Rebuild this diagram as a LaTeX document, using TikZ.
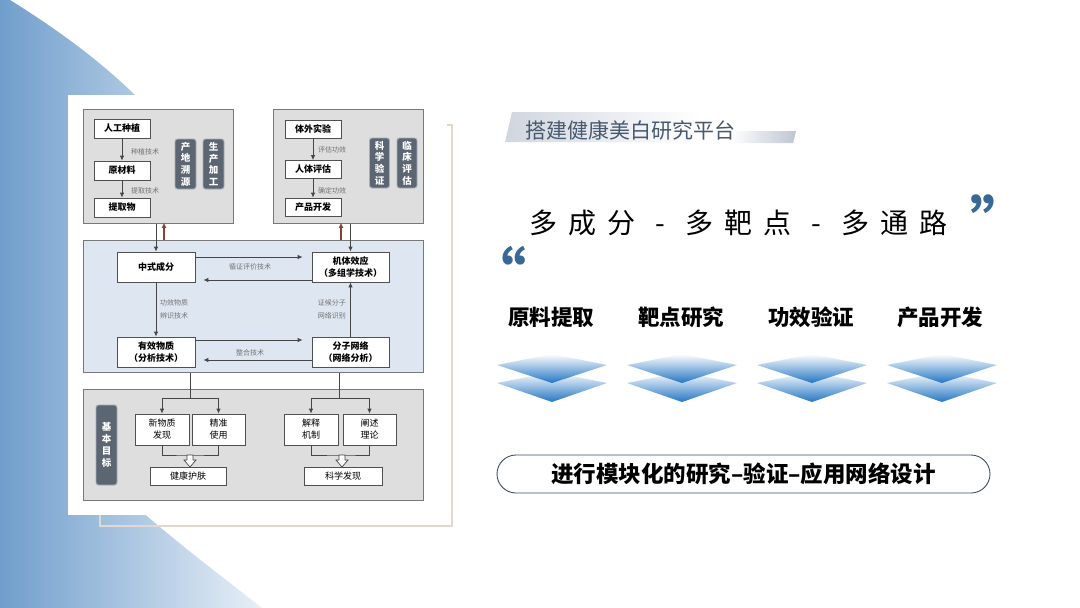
\documentclass[tikz,border=0pt]{standalone}
\usepackage{fontspec}
\setmainfont{Noto Sans CJK SC}
\usetikzlibrary{arrows.meta,calc}
\definecolor{bgblueA}{RGB}{112,158,204}
\definecolor{bgblueM}{RGB}{188,208,230}
\definecolor{bgblueB}{RGB}{232,239,247}
\definecolor{boxgray}{RGB}{222,222,222}
\definecolor{boxborder}{RGB}{120,120,120}
\definecolor{midblue}{RGB}{222,231,241}
\definecolor{nodeline}{RGB}{80,80,80}
\definecolor{tagfill}{RGB}{92,102,114}
\definecolor{tagline}{RGB}{165,175,185}
\definecolor{linkgray}{RGB}{70,70,70}
\definecolor{redarrow}{RGB}{140,62,55}
\definecolor{labgray}{RGB}{115,115,115}
\definecolor{titleblue}{RGB}{72,88,110}
\definecolor{bandgray}{RGB}{208,214,223}
\definecolor{bandgrayB}{RGB}{190,198,210}
\definecolor{quoteblue}{RGB}{58,104,150}
\definecolor{chevblue}{RGB}{36,118,196}
\definecolor{chevlight}{RGB}{170,205,235}
\definecolor{pillline}{RGB}{60,78,105}
\definecolor{beige}{RGB}{226,216,206}
\tikzset{
  grpbox/.style={draw=boxborder, fill=boxgray, line width=0.9pt, inner sep=0, anchor=north west},
  midbox/.style={draw=boxborder, fill=midblue, line width=0.9pt, inner sep=0, anchor=north west},
  nbox/.style={draw=nodeline, fill=white, line width=0.8pt, inner sep=0, align=center,
    font=\bfseries\fontsize{9}{12}\selectfont},
  tagbox/.style={draw=tagline, fill=tagfill, rounded corners=2.5pt, text=white, inner sep=0,
    line width=0.9pt, align=center, font=\bfseries\fontsize{9.5}{11.7}\selectfont},
  lab/.style={font=\fontsize{7}{13}\selectfont, text=labgray, inner sep=0, align=left},
  link/.style={draw=linkgray, line width=0.8pt, -{Latex[length=5pt,width=4.5pt]}},
  plainlink/.style={draw=linkgray, line width=0.8pt},
  redlink/.style={draw=redarrow, line width=1.3pt, -{Latex[length=5pt,width=5pt]}},
  hollow/.style={draw=linkgray, fill=white, line width=0.7pt},
  head/.style={font=\bfseries\fontsize{21.5}{24}\selectfont, inner sep=0},
  bigchar/.style={font=\fontsize{28}{30}\selectfont, inner sep=0, anchor=base},
  quote/.style={font=\bfseries\fontsize{58}{60}\selectfont, text=quoteblue, inner sep=0, anchor=base},
}
\begin{document}
\begin{tikzpicture}[x=1pt,y=-1pt]
\useasboundingbox (0,0) rectangle (1080,608);
\fill[white] (0,0) rectangle (1080,608);
% background blue shape
\shade[left color=bgblueA, middle color=bgblueM, right color=bgblueB]
  (0,0) -- (10,0) .. controls (55,28) and (100,60) .. (140,100) -- (140,510)
  .. controls (180,545) and (220,575) .. (262,608) -- (0,608) -- cycle;
% panel
\draw[beige, line width=1.5pt] (100,125) rectangle (452,526);
\fill[white] (68,95) rectangle (447,515);

% group boxes
\node[grpbox, minimum width=150, minimum height=114] (boxA) at (83,109) {};
\node[grpbox, minimum width=150, minimum height=114] (boxB) at (273,109) {};
\node[midbox, minimum width=340, minimum height=132] (boxC) at (83,240) {};
\node[grpbox, minimum width=340, minimum height=111] (boxD) at (83,389) {};

% box A
\node[nbox, minimum width=56, minimum height=19] (n1) at (122,128.5) {人工种植};
\node[nbox, minimum width=56, minimum height=19] (n2) at (122,170.5) {原材料};
\node[nbox, minimum width=56, minimum height=19] (n3) at (122,207.5) {提取物};
\draw[link] (n1) -- (n2);
\draw[link] (n2) -- (n3);
\node[lab, anchor=west] (l1) at (131,152) {种植技术};
\node[lab, anchor=west] (l2) at (131,191) {提取技术};
\node[tagbox, minimum width=21, minimum height=50] (t1) at (185.5,164) {产\\地\\溯\\源};
\node[tagbox, minimum width=21, minimum height=50] (t2) at (213.5,164) {生\\产\\加\\工};

% box B
\node[nbox, minimum width=56, minimum height=18] (n4) at (313,129.5) {体外实验};
\node[nbox, minimum width=56, minimum height=18] (n5) at (313,169.5) {人体评估};
\node[nbox, minimum width=56, minimum height=18] (n6) at (313,207) {产品开发};
\draw[link] (n4) -- (n5);
\draw[link] (n5) -- (n6);
\node[lab, anchor=west] (l3) at (318,150) {评估功效};
\node[lab, anchor=west] (l4) at (318,191) {确定功效};
\node[tagbox, minimum width=20, minimum height=50] (t3) at (379.5,163) {科\\学\\验\\证};
\node[tagbox, minimum width=20, minimum height=50] (t4) at (407,163) {临\\床\\评\\估};

% box C
\node[nbox, minimum width=78, minimum height=30] (m1) at (156,267) {中式成分};
\node[nbox, minimum width=78, minimum height=30] (m2) at (156,352) {有效物质\\（分析技术）};
\node[nbox, minimum width=77, minimum height=30] (m3) at (350.5,267) {机体效应\\（多组学技术）};
\node[nbox, minimum width=77, minimum height=30] (m4) at (350.5,352) {分子网络\\（网络分析）};
\draw[link, shorten >=9pt] ([yshift=10pt]m1.east) -- ([yshift=10pt]m1.east -| m3.west);
\draw[link, shorten >=8pt] ([yshift=-13pt]m3.west) -- ([yshift=-13pt]m3.west -| m1.east);
\draw[link, shorten >=9pt] ([yshift=12pt]m2.east) -- ([yshift=12pt]m2.east -| m4.west);
\draw[link, shorten >=8pt] ([yshift=-8pt]m4.west) -- ([yshift=-8pt]m4.west -| m2.east);
\node[lab] (l5) at (250,267) {循证评价技术};
\node[lab] (l6) at (250,353) {整合技术};
\draw[link] (m1) -- (m2);
\draw[link] (m4) -- (m3);
\node[lab, anchor=west] (l7) at (160,309.5) {功效物质\\辨识技术};
\node[lab, anchor=east] (l8) at (346,309.5) {证候分子\\网络识别};

% links between boxes
\coordinate (rA) at (164,0);
\coordinate (rB) at (341,0);
\draw[link] (boxA.south -| m1.north) -- (m1.north);
\draw[redlink] (boxC.north -| rA) -- ([yshift=1pt]boxA.south -| rA);
\draw[link] (boxB.south -| m3.north) -- (m3.north);
\draw[redlink] (boxC.north -| rB) -- ([yshift=1pt]boxB.south -| rB);

% box D
\node[tagbox, minimum width=21, minimum height=80, font=\bfseries\fontsize{9.5}{12}\selectfont] (t5) at (106.5,445) {基\\本\\目\\标};
\node[nbox, minimum width=54, minimum height=31, font=\fontsize{9}{12}\selectfont] (b1) at (162,429.5) {新物质\\发现};
\node[nbox, minimum width=53, minimum height=31, font=\fontsize{9}{12}\selectfont] (b2) at (218.5,429.5) {精准\\使用};
\node[nbox, minimum width=76, minimum height=18, font=\fontsize{9}{12}\selectfont] (b3) at (188,476) {健康护肤};
\node[nbox, minimum width=54, minimum height=31, font=\fontsize{9}{12}\selectfont] (b4) at (311,429.5) {解释\\机制};
\node[nbox, minimum width=53, minimum height=31, font=\fontsize{9}{12}\selectfont] (b5) at (369.5,429.5) {阐述\\理论};
\node[nbox, minimum width=78, minimum height=18, font=\fontsize{9}{12}\selectfont] (b6) at (343,476) {科学发现};

\coordinate (sL) at (190,398);
\coordinate (sR) at (339,398);
\draw[plainlink] (boxC.south -| sL) -- (sL);
\draw[link] (sL) -| (b1.north);
\draw[link] (sL) -| (b2.north);
\draw[plainlink] (boxC.south -| sR) -- (sR);
\draw[link] (sR) -| (b4.north);
\draw[link] (sR) -| (b5.north);
\coordinate (jL) at (190,455);
\coordinate (jR) at (342,455);
\draw[plainlink] (b1.south) |- (jL) -| (b2.south);
\draw[plainlink] (b4.south) |- (jR) -| (b5.south);
\draw[hollow] ([xshift=-3pt]jL) -- ++(0,5) -- ++(-3,0) -- ++(6,7) -- ++(6,-7) -- ++(-3,0) -- ++(0,-5) -- cycle;
\draw[hollow] ([xshift=-3pt]jR) -- ++(0,5) -- ++(-3,0) -- ++(6,7) -- ++(6,-7) -- ++(-3,0) -- ++(0,-5) -- cycle;

% ---------- right side ----------
\shade[left color=bandgray, right color=white]
  (512,112) -- (700,112) -- (695,142) -- (505,142) -- cycle;
\shade[left color=white, right color=bandgrayB]
  (730,131) -- (796,131) -- (793,143) -- (730,143) -- cycle;
\node[font=\fontsize{21}{24}\selectfont, text=titleblue, inner sep=0] (title) at (630,130) {搭建健康美白研究平台};

\foreach \c [count=\i] in {多,成,分,-,多,靶,点,-,多,通,路}{
  \node[bigchar] (s\i) at (543+39*\i-39,233) {\c};
}
\node[quote] (q1) at (497,296) {“};
\node[quote] (q2) at (999,244) {”};

\node[head] (h1) at (551,317) {原料提取};
\node[head] (h2) at (681,317) {靶点研究};
\node[head] (h3) at (811,317) {功效验证};
\node[head] (h4) at (940,317) {产品开发};

\foreach \cx in {552,682,812,942}{
  \shade[top color=white, middle color=chevlight, bottom color=chevblue]
    (\cx-55,383) -- (\cx,372) -- (\cx+55,383) -- (\cx,402) -- cycle;
  \shade[top color=white, middle color=chevlight, bottom color=chevblue]
    (\cx-55,365) -- (\cx,354) -- (\cx+55,365) -- (\cx,383) -- cycle;
}

\node[draw=pillline, rounded corners=19pt, minimum width=493, minimum height=38, line width=0.9pt,
  font=\bfseries\fontsize{22.5}{26}\selectfont, inner sep=0] (pill) at (743.5,474) {进行模块化的研究–验证–应用网络设计};
\end{tikzpicture}
\end{document}
